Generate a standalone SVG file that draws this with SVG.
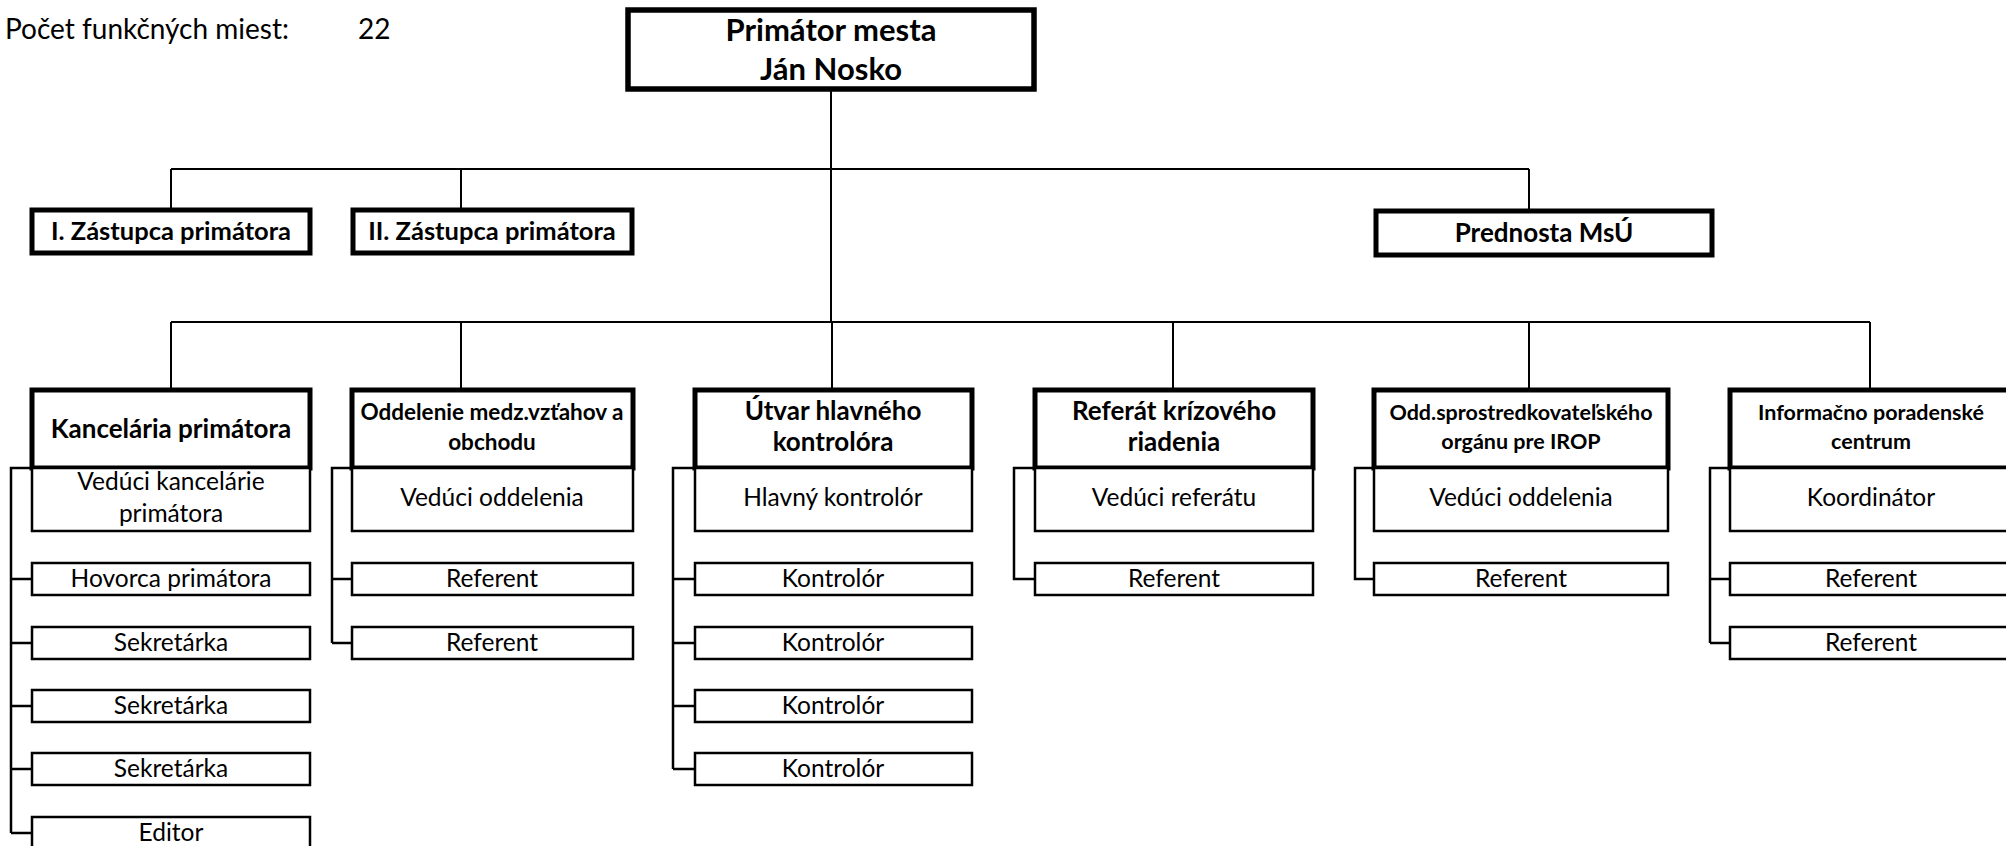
<svg xmlns="http://www.w3.org/2000/svg" width="2006" height="846" viewBox="0 0 2006 846">
<style>
text{font-family:Lato,"Open Sans","Liberation Sans",sans-serif;fill:#000;text-anchor:middle}
.b{font-weight:bold}
.thick{fill:#fff;stroke:#000;stroke-width:5}
.thin{fill:#fff;stroke:#000;stroke-width:2.5}
.ln{fill:none;stroke:#000;stroke-width:2}
.br{fill:none;stroke:#000;stroke-width:2.5}
.t1{font-size:31px}
.tz{font-size:25.5px}
.td{font-size:26px}
.ts{font-size:22.5px}
.tx{font-size:21.5px}
.tr{font-size:24.5px}
</style>
<rect width="2006" height="846" fill="#fff"/>
<text x="5" y="39" style="font-size:28px;text-anchor:start">Počet funkčných miest:</text>
<text x="358" y="39" style="font-size:28px;text-anchor:start">22</text>

<g id="connectors">
<path class="ln" d="M831 90V322M171 169H1529M171 169V210M461 169V210M1529 169V211M171 322H1870M171 322V390M461 322V390M832 322V390M1173 322V390M1529 322V390M1870 322V390"/>
<path class="br" d="M32 468H11V833M11 579H32M11 643H32M11 706H32M11 769H32M11 833H32"/>
<path class="br" d="M352 468H332V643M332 579H352M332 643H352"/>
<path class="br" d="M695 468H673V769M673 579H695M673 643H695M673 706H695M673 769H695"/>
<path class="br" d="M1035 468H1014V579H1035"/>
<path class="br" d="M1374 468H1355V579H1374"/>
<path class="br" d="M1730 468H1710V643M1710 579H1730M1710 643H1730"/>
</g>

<g id="primator"><rect class="thick" x="628" y="10" width="406" height="79" style="stroke-width:5.5"/><text class="b t1" x="831" y="41">Primátor mesta</text><text class="b t1" x="831" y="80">Ján Nosko</text></g>
<g id="zast1"><rect class="thick" x="32" y="210" width="278" height="43"/><text class="b tz" x="171" y="240">I. Zástupca primátora</text></g>
<g id="zast2"><rect class="thick" x="353" y="210" width="279" height="43"/><text class="b tz" x="492" y="240">II. Zástupca primátora</text></g>
<g id="prednosta"><rect class="thick" x="1376" y="211" width="336" height="44"/><text class="b" style="font-size:26px" x="1544" y="242">Prednosta MsÚ</text></g>

<g id="kancelaria"><rect class="thick" x="32" y="390" width="278" height="78"/><text class="b td" x="171" y="438">Kancelária primátora</text></g>
<g id="k-veduci"><rect class="thin" x="32" y="468" width="278" height="63"/><text class="tr" x="171" y="490">Vedúci kancelárie</text><text class="tr" x="171" y="522">primátora</text></g>
<g id="k-hovorca"><rect class="thin" x="32" y="563" width="278" height="32"/><text class="tr" x="171" y="587">Hovorca primátora</text></g>
<g id="k-sek1"><rect class="thin" x="32" y="627" width="278" height="32"/><text class="tr" x="171" y="651">Sekretárka</text></g>
<g id="k-sek2"><rect class="thin" x="32" y="690" width="278" height="32"/><text class="tr" x="171" y="714">Sekretárka</text></g>
<g id="k-sek3"><rect class="thin" x="32" y="753" width="278" height="32"/><text class="tr" x="171" y="777">Sekretárka</text></g>
<g id="k-editor"><rect class="thin" x="32" y="817" width="278" height="34"/><text class="tr" x="171" y="841">Editor</text></g>

<g id="oddelenie"><rect class="thick" x="352" y="390" width="281" height="78"/><text class="b ts" x="492" y="420">Oddelenie medz.vzťahov a</text><text class="b ts" x="492" y="450">obchodu</text></g>
<g id="o-veduci"><rect class="thin" x="352" y="468" width="281" height="63"/><text class="tr" x="492" y="506">Vedúci oddelenia</text></g>
<g id="o-ref1"><rect class="thin" x="352" y="563" width="281" height="32"/><text class="tr" x="492" y="587">Referent</text></g>
<g id="o-ref2"><rect class="thin" x="352" y="627" width="281" height="32"/><text class="tr" x="492" y="651">Referent</text></g>

<g id="utvar"><rect class="thick" x="695" y="390" width="277" height="78"/><text class="b td" x="833" y="420">Útvar hlavného</text><text class="b td" x="833" y="451">kontrolóra</text></g>
<g id="u-hlavny"><rect class="thin" x="695" y="468" width="277" height="63"/><text class="tr" x="833" y="506">Hlavný kontrolór</text></g>
<g id="u-k1"><rect class="thin" x="695" y="563" width="277" height="32"/><text class="tr" x="833" y="587">Kontrolór</text></g>
<g id="u-k2"><rect class="thin" x="695" y="627" width="277" height="32"/><text class="tr" x="833" y="651">Kontrolór</text></g>
<g id="u-k3"><rect class="thin" x="695" y="690" width="277" height="32"/><text class="tr" x="833" y="714">Kontrolór</text></g>
<g id="u-k4"><rect class="thin" x="695" y="753" width="277" height="32"/><text class="tr" x="833" y="777">Kontrolór</text></g>

<g id="referat"><rect class="thick" x="1035" y="390" width="278" height="78"/><text class="b td" x="1174" y="420">Referát krízového</text><text class="b td" x="1174" y="451">riadenia</text></g>
<g id="r-veduci"><rect class="thin" x="1035" y="468" width="278" height="63"/><text class="tr" x="1174" y="506">Vedúci referátu</text></g>
<g id="r-ref"><rect class="thin" x="1035" y="563" width="278" height="32"/><text class="tr" x="1174" y="587">Referent</text></g>

<g id="sprostredkovatel"><rect class="thick" x="1374" y="390" width="294" height="78"/><text class="b tx" x="1521" y="420">Odd.sprostredkovateľského</text><text class="b tx" x="1521" y="449">orgánu pre IROP</text></g>
<g id="s-veduci"><rect class="thin" x="1374" y="468" width="294" height="63"/><text class="tr" x="1521" y="506">Vedúci oddelenia</text></g>
<g id="s-ref"><rect class="thin" x="1374" y="563" width="294" height="32"/><text class="tr" x="1521" y="587">Referent</text></g>

<g id="informacno"><rect class="thick" x="1730" y="390" width="290" height="78"/><text class="b tx" x="1871" y="420">Informačno poradenské</text><text class="b tx" x="1871" y="449">centrum</text></g>
<g id="i-koord"><rect class="thin" x="1730" y="468" width="290" height="63"/><text class="tr" x="1871" y="506">Koordinátor</text></g>
<g id="i-ref1"><rect class="thin" x="1730" y="563" width="290" height="32"/><text class="tr" x="1871" y="587">Referent</text></g>
<g id="i-ref2"><rect class="thin" x="1730" y="627" width="290" height="32"/><text class="tr" x="1871" y="651">Referent</text></g>
</svg>
